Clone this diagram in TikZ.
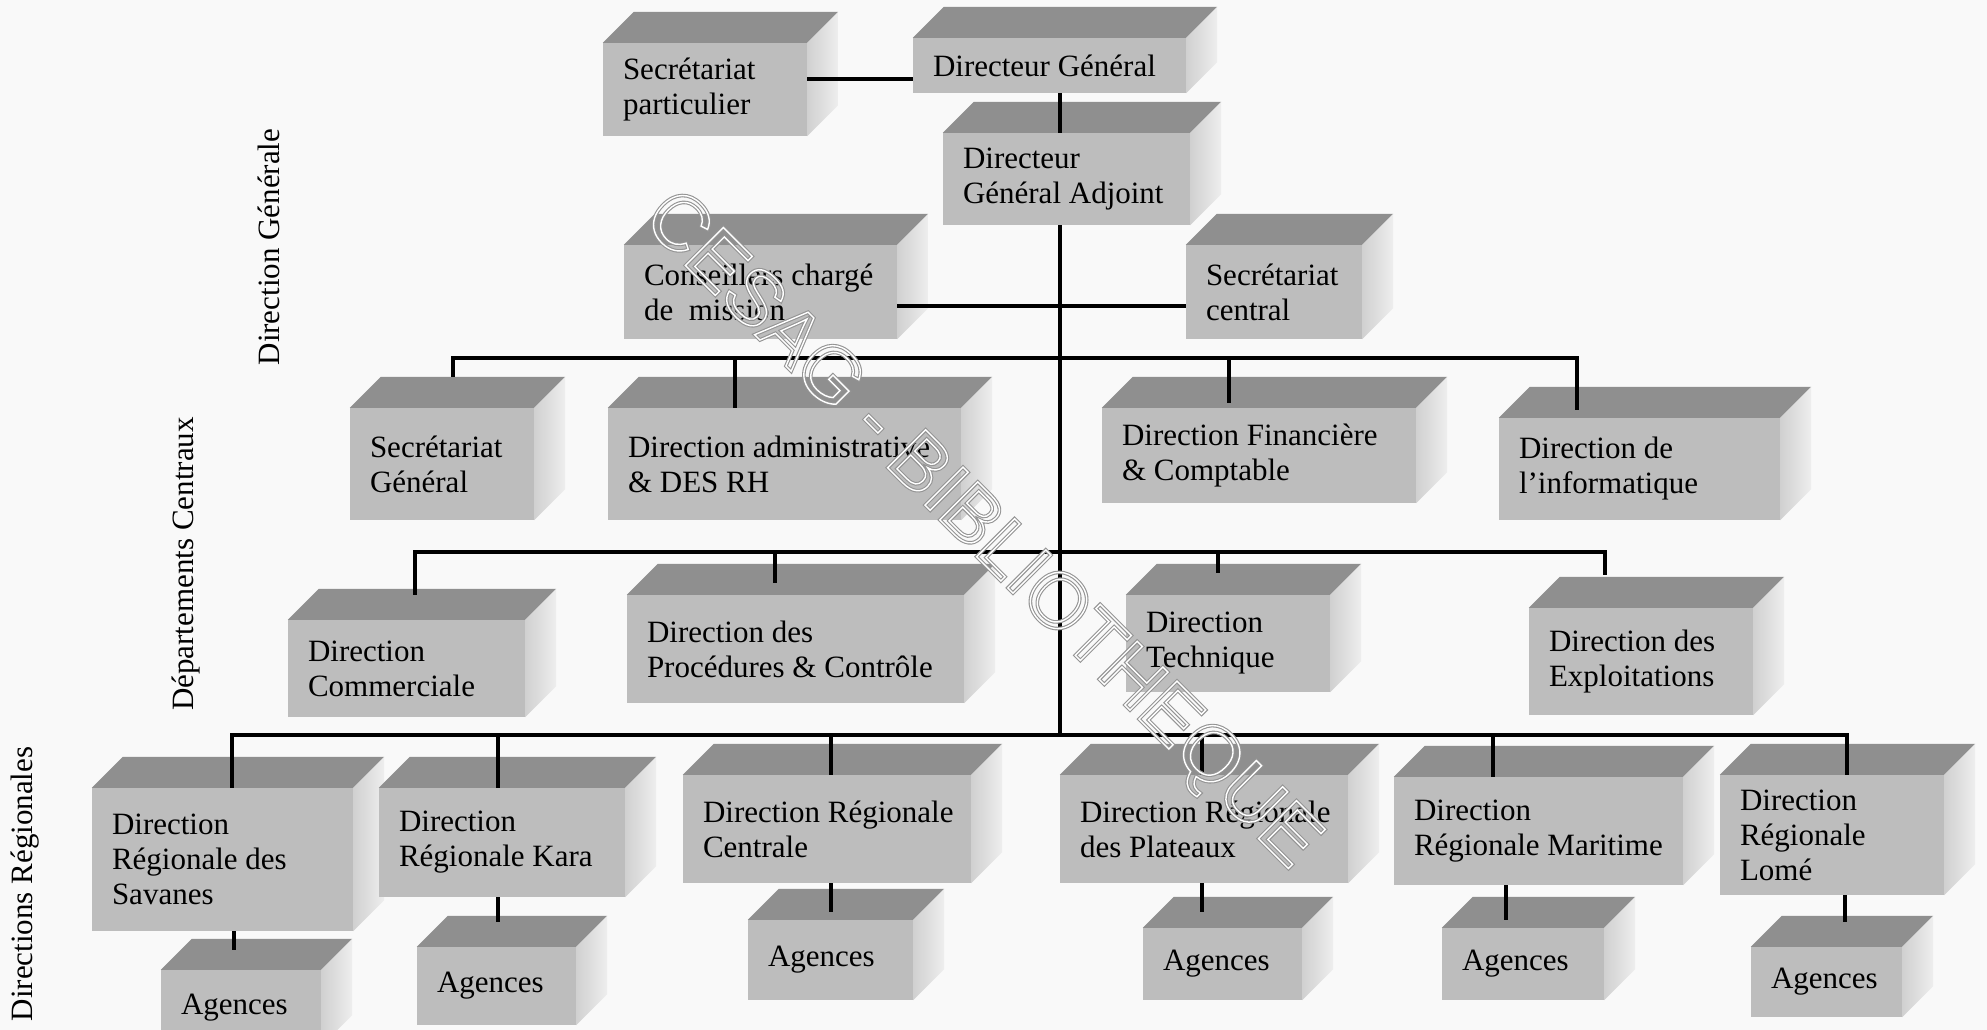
\documentclass[tikz,border=0pt]{standalone}
\usepackage{fontspec}
\setmainfont{Liberation Serif}
\newfontfamily\stampfont{Liberation Sans}

\definecolor{paper}{RGB}{249,249,249}
\definecolor{facefront}{RGB}{189,189,189}
\definecolor{facetop}{RGB}{143,143,143}
\definecolor{sidedark}{RGB}{208,208,208}
\definecolor{sidelite}{RGB}{238,238,238}

\tikzset{
  frontface/.style={fill=facefront, inner sep=0pt},
  boxtext/.style={anchor=west, align=left, inner sep=0pt,
    font=\fontsize{31}{35}\selectfont},
  link/.style={line width=3.8pt, black},
  sidelabel/.style={rotate=90, inner sep=0pt,
    font=\fontsize{31}{35}\selectfont},
  stamp/.style={rotate=-45, inner sep=0pt,
    font=\stampfont\fontsize{78}{90}\selectfont},
}

% depth of the 3-D blocks (towards upper right)
\newcommand\depx{31}
\newcommand\depy{31}

% \orgbox{name}{x1}{y1}{x2}{y2}{label}: front face from (x1,y1) to (x2,y2)
\newcommand\orgbox[6]{%
  \pgfmathsetmacro\obw{#4-#2}%
  \pgfmathsetmacro\obh{#5-#3}%
  \node[frontface, minimum width=\obw pt, minimum height=\obh pt]
    (#1) at ({(#2+#4)/2},{(#3+#5)/2}) {};
  \fill[facetop] (#1.north west) -- ++(\depx,-\depy)
    -- ([shift={(\depx,-\depy)}]#1.north east) -- (#1.north east) -- cycle;
  \shade[left color=sidedark, right color=sidelite] (#1.north east)
    -- ++(\depx,-\depy) -- ([shift={(\depx,-\depy)}]#1.south east)
    -- (#1.south east) -- cycle;
  \node[boxtext] (#1t) at ([xshift=20pt]#1.west) {#6};
}

\begin{document}
\begin{tikzpicture}[x=1pt,y=-1pt]
\useasboundingbox (0,0) rectangle (1987,1030);
\clip (0,0) rectangle (1987,1030);
\fill[paper] (0,0) rectangle (1987,1030);

% ---- Direction Générale
\orgbox{sp}{603}{43}{807}{136}{Secrétariat\\particulier}
\orgbox{dg}{913}{38}{1186}{93}{Directeur Général}
\orgbox{dga}{943}{133}{1190}{225}{Directeur\\Général Adjoint}
\orgbox{cm}{624}{245}{897}{339}{Conseillers chargé\\de\ \ mission}
\orgbox{sc}{1186}{245}{1362}{339}{Secrétariat\\central}

% ---- Départements Centraux
\orgbox{sgen}{350}{408}{534}{520}{Secrétariat\\Général}
\orgbox{dadm}{608}{408}{961}{520}{Direction administrative\\\& DES RH}
\orgbox{dfin}{1102}{408}{1416}{503}{Direction Financière\\\& Comptable}
\orgbox{dinf}{1499}{418}{1780}{520}{Direction de\\l’informatique}
\orgbox{dcom}{288}{620}{525}{717}{Direction\\Commerciale}
\orgbox{dproc}{627}{595}{964}{703}{Direction des\\Procédures \& Contrôle}
\orgbox{dtech}{1126}{595}{1330}{692}{Direction\\Technique}
\orgbox{dexp}{1529}{608}{1753}{715}{Direction des\\Exploitations}

% ---- Directions Régionales
\orgbox{drs}{92}{788}{353}{931}{Direction\\Régionale des\\Savanes}
\orgbox{drk}{379}{788}{625}{897}{Direction\\Régionale Kara}
\orgbox{drc}{683}{775}{971}{883}{Direction Régionale\\Centrale}
\orgbox{drp}{1060}{775}{1348}{883}{Direction Régionale\\des Plateaux}
\orgbox{drm}{1394}{777}{1683}{885}{Direction\\Régionale Maritime}
\orgbox{drl}{1720}{775}{1944}{895}{Direction\\Régionale\\Lomé}
\orgbox{ags}{161}{970}{321}{1046}{Agences}
\orgbox{agk}{417}{947}{576}{1025}{Agences}
\orgbox{agc}{748}{920}{913}{1000}{Agences}
\orgbox{agp}{1143}{928}{1302}{1000}{Agences}
\orgbox{agm}{1442}{928}{1604}{1000}{Agences}
\orgbox{agl}{1751}{947}{1902}{1017}{Agences}

% ---- level labels
\node[sidelabel] (lvlDG) at (269,247) {Direction Générale};
\node[sidelabel] (lvlDC) at (186,564) {Départements Centraux};
\node[sidelabel] (lvlDR) at (25,884) {Directions Régionales};

% ---- junctions on the main trunk
\coordinate (j0) at (1060,306);
\coordinate (j1) at (1060,358);
\coordinate (j2) at (1060,552);
\coordinate (j3) at (1060,735);

% ---- connectors
\draw[link] ([yshift=10.5pt]sp.east) -- ([yshift=-13.5pt]dg.west);
\draw[link] (dg.south -| j0) -- (dga.north -| j0);
\draw[link] (dga.south -| j3) -- (j3);
\draw[link] (cm.east |- j0) -- (sc.west |- j0);

\draw[link, shorten >=31pt] (j1) -| ([xshift=11pt]sgen.north);
\draw[link] (j1) -| ([xshift=-49.5pt]dadm.north);
\draw[link, shorten >=5pt] (j1) -| ([xshift=-30pt]dfin.north);
\draw[link, shorten >=8pt] (j1) -| ([xshift=-62.5pt]dinf.north);

\draw[link, shorten >=25pt] (j2) -| ([xshift=8.5pt]dcom.north);
\draw[link, shorten >=12pt] (j2) -| ([xshift=-20.5pt]dproc.north);
\draw[link, shorten >=22pt] (j2) -| ([xshift=-10pt]dtech.north);
\draw[link, shorten >=33pt] (j2) -| ([xshift=-36pt]dexp.north);

\draw[link] (j3) -| ([xshift=9.5pt]drs.north);
\draw[link] (j3) -| ([xshift=-4pt]drk.north);
\draw[link] (j3) -| ([xshift=4pt]drc.north);
\draw[link] (j3) -| ([xshift=-2pt]drp.north);
\draw[link] (j3) -| ([xshift=-45.5pt]drm.north);
\draw[link] (j3) -| ([xshift=15pt]drl.north);

\draw[link, shorten >=20pt] ([xshift=11.5pt]drs.south) -- ([xshift=11.5pt]drs.south |- ags.north);
\draw[link, shorten >=25pt] ([xshift=-4pt]drk.south) -- ([xshift=-4pt]drk.south |- agk.north);
\draw[link, shorten >=8pt] ([xshift=4pt]drc.south) -- ([xshift=4pt]drc.south |- agc.north);
\draw[link, shorten >=16pt] ([xshift=-2pt]drp.south) -- ([xshift=-2pt]drp.south |- agp.north);
\draw[link, shorten >=8pt] ([xshift=-32.5pt]drm.south) -- ([xshift=-32.5pt]drm.south |- agm.north);
\draw[link, shorten >=25pt] ([xshift=13pt]drl.south) -- ([xshift=13pt]drl.south |- agl.north);

% ---- outlined library stamp across the chart
\node[stamp, text=black!42] (stampA) at (980,532)
  {\special{pdf:literal direct 1 Tr 3.6 w 0.58 G}CESAG - BIBLIOTHEQUE\special{pdf:literal direct 0 Tr}};
\node[stamp, text=white] (stampB) at (980,532)
  {\special{pdf:literal direct 1 Tr 1.4 w 1 G}CESAG - BIBLIOTHEQUE\special{pdf:literal direct 0 Tr}};
\end{tikzpicture}
\end{document}
